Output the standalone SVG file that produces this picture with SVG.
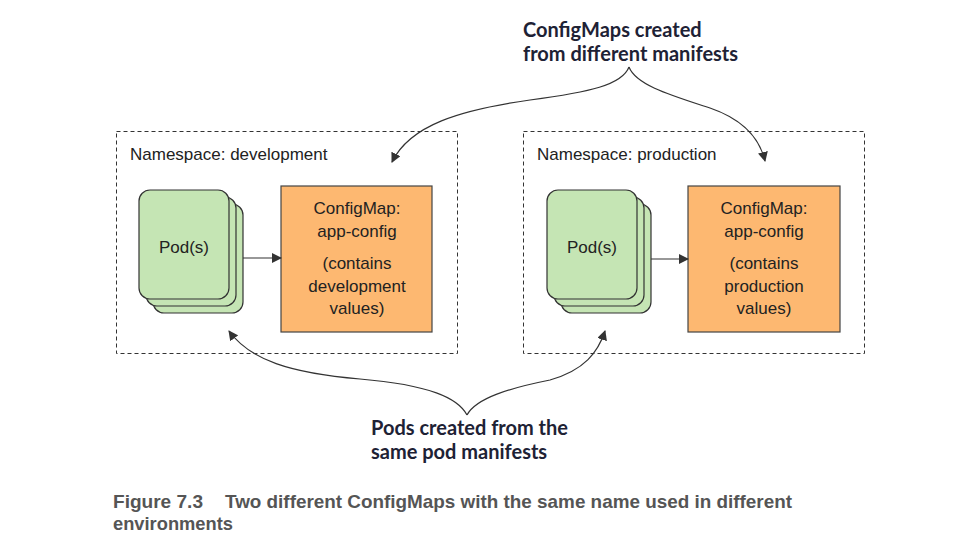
<svg xmlns="http://www.w3.org/2000/svg" width="969" height="553" viewBox="0 0 969 553">
<style>
.ns{fill:none;stroke:#333;stroke-width:1;stroke-dasharray:4,3}
.pod{fill:#c5e5b4;stroke:#333;stroke-width:1.2}
.cm{fill:#fdb871;stroke:#444;stroke-width:1.2}
.t{font-family:"Liberation Sans",Arial,sans-serif;font-size:17px;fill:#222}
.tn{font-family:"Liberation Sans",Arial,sans-serif;font-size:17px;fill:#222}
.lbl{font-family:Lato,"Liberation Sans",sans-serif;font-weight:bold;font-size:20px;fill:#1e2235}
.cap{font-family:"Liberation Sans",Arial,sans-serif;font-weight:bold;font-size:19px;fill:#555}
.c{fill:none;stroke:#333;stroke-width:1.2}
</style>
<defs>
<marker id="ah" viewBox="0 0 10 10" refX="9" refY="5" markerWidth="10" markerHeight="10" markerUnits="userSpaceOnUse" orient="auto">
<path d="M0,0 L10,5 L0,10 z" fill="#333"/>
</marker>
</defs>
<rect width="969" height="553" fill="#fff"/>

<g id="ns-development">
<rect class="ns" x="116.5" y="131.5" width="341" height="222"/>
<text class="tn" x="130" y="160">Namespace: development</text>
</g>
<g id="pods-development">
<rect class="pod" x="153" y="204" width="90" height="109" rx="11"/>
<rect class="pod" x="146" y="197" width="90" height="109" rx="11"/>
<rect class="pod" x="139" y="190" width="90" height="109" rx="11"/>
<text class="t" x="184" y="253" text-anchor="middle">Pod(s)</text>
</g>
<g id="cm-development">
<rect class="cm" x="281" y="186" width="151" height="146"/>
<text class="t" text-anchor="middle"><tspan x="357" y="214">ConfigMap:</tspan><tspan x="357" y="237">app-config</tspan><tspan x="357" y="269">(contains</tspan><tspan x="357" y="292">development</tspan><tspan x="357" y="314">values)</tspan></text>
</g>

<g id="ns-production">
<rect class="ns" x="523.5" y="131.5" width="341" height="222"/>
<text class="tn" x="537" y="160">Namespace: production</text>
</g>
<g id="pods-production">
<rect class="pod" x="561" y="204" width="90" height="109" rx="11"/>
<rect class="pod" x="554" y="197" width="90" height="109" rx="11"/>
<rect class="pod" x="547" y="190" width="90" height="109" rx="11"/>
<text class="t" x="592" y="253" text-anchor="middle">Pod(s)</text>
</g>
<g id="cm-production">
<rect class="cm" x="688" y="186" width="152" height="146"/>
<text class="t" text-anchor="middle"><tspan x="764" y="214">ConfigMap:</tspan><tspan x="764" y="237">app-config</tspan><tspan x="764" y="269">(contains</tspan><tspan x="764" y="292">production</tspan><tspan x="764" y="314">values)</tspan></text>
</g>

<g id="label-configmaps">
<text class="lbl"><tspan x="523" y="37">ConfigMaps created</tspan><tspan x="523" y="61">from different manifests</tspan></text>
</g>
<g id="label-pods">
<text class="lbl"><tspan x="371" y="435">Pods created from the</tspan><tspan x="371" y="459">same pod manifests</tspan></text>
</g>

<g id="connectors">
<line class="c" x1="243" y1="258" x2="281" y2="258" marker-end="url(#ah)"/>
<line class="c" x1="651" y1="259" x2="688" y2="259" marker-end="url(#ah)"/>
<path class="c" d="M629,67 C622,85 590,92 530,100 C460,110 410,125 392,162" marker-end="url(#ah)"/>
<path class="c" d="M629,67 C636,85 670,95 710,108 C745,120 760,140 765,161" marker-end="url(#ah)"/>
<path class="c" d="M467,415 C458,398 430,385 360,379 C290,373 250,360 229,331" marker-end="url(#ah)"/>
<path class="c" d="M467,415 C476,398 510,388 550,380 C585,370 598,352 605,331" marker-end="url(#ah)"/>
</g>

<g id="caption">
<text class="cap"><tspan x="113" y="508" textLength="90" lengthAdjust="spacingAndGlyphs">Figure 7.3</tspan><tspan x="225" y="508" textLength="567" lengthAdjust="spacingAndGlyphs">Two different ConfigMaps with the same name used in different</tspan><tspan x="113" y="530" textLength="120" lengthAdjust="spacingAndGlyphs">environments</tspan></text>
</g>
</svg>
